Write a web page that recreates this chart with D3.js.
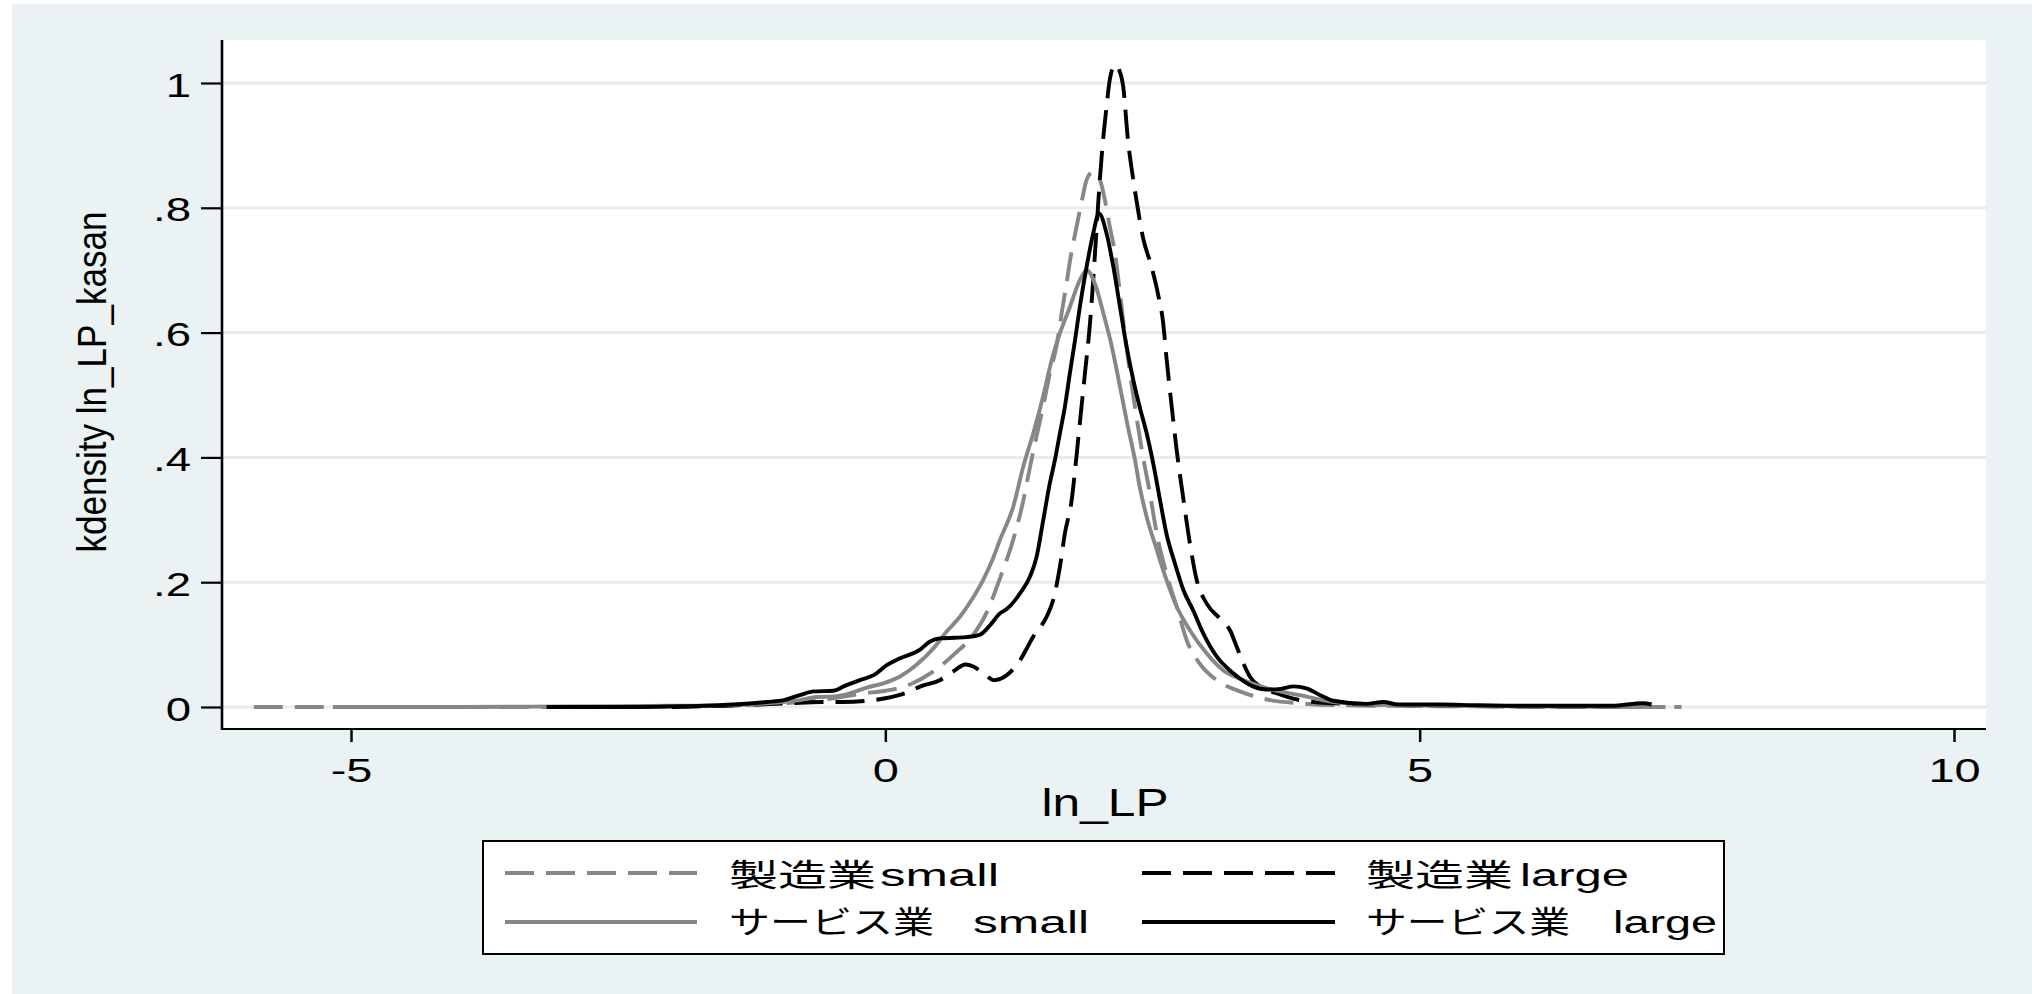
<!DOCTYPE html>
<html>
<head>
<meta charset="utf-8">
<script src="https://cdn.jsdelivr.net/npm/d3@7"></script>
<style>
  html, body { margin: 0; padding: 0; background: #fff; }
  svg { display: block; }
</style>
</head>
<body>
<script>
// ticks and labels
var xTicks = [-5, 0, 5, 10];
var yTicks = [0, 0.2, 0.4, 0.6, 0.8, 1];
var yTickLabels = ["0", ".2", ".4", ".6", ".8", "1"];
var xTitle = "ln_LP";
var yTitle = "kdensity ln_LP_kasan";

// legend text, split into the kanji/kana part and the latin part
var legendKana = ["製造業", "製造業", "サービス業", "サービス業"];
var legendLatin = ["small", "large", "small", "large"];

// kernel density estimates: [ln_LP, density]
var mfgSmall = [
  [-5.91, 0.000], [-4.0, 0.000], [-3.0, 0.000], [-2.0, 0.001], [-1.5, 0.002],
  [-1.2, 0.004], [-0.95, 0.006], [-0.7, 0.010], [-0.49, 0.014], [-0.2, 0.022],
  [0.0, 0.026], [0.23, 0.036], [0.45, 0.057], [0.64, 0.084], [0.82, 0.115],
  [0.95, 0.152], [1.07, 0.205], [1.2, 0.27], [1.29, 0.33], [1.354, 0.385],
  [1.416, 0.435], [1.476, 0.481], [1.54, 0.535], [1.60, 0.577], [1.65, 0.631],
  [1.70, 0.684], [1.74, 0.727], [1.79, 0.77], [1.84, 0.812], [1.884, 0.845],
  [1.945, 0.858], [2.008, 0.845], [2.055, 0.812], [2.10, 0.77], [2.149, 0.727],
  [2.196, 0.663], [2.24, 0.599], [2.29, 0.535], [2.336, 0.481], [2.40, 0.412],
  [2.476, 0.342], [2.54, 0.278], [2.63, 0.214], [2.726, 0.161], [2.82, 0.107],
  [2.94, 0.07], [3.1, 0.043], [3.318, 0.025], [3.57, 0.012], [3.88, 0.006],
  [4.19, 0.003], [4.6, 0.002], [5.5, 0.001], [6.5, 0.000], [7.45, 0.000]
];
var mfgLarge = [
  [-2.0, 0.000], [-1.5, 0.002], [-1.2, 0.004], [-0.9, 0.006], [-0.6, 0.008],
  [-0.4, 0.008], [-0.17, 0.010], [0.0, 0.014], [0.2, 0.023], [0.33, 0.033],
  [0.51, 0.043], [0.636, 0.057], [0.75, 0.068], [0.823, 0.065], [0.917, 0.054],
  [1.02, 0.043], [1.136, 0.051], [1.26, 0.075], [1.385, 0.113], [1.51, 0.145],
  [1.57, 0.171], [1.634, 0.225], [1.68, 0.278], [1.744, 0.332], [1.79, 0.404],
  [1.82, 0.455], [1.868, 0.535], [1.915, 0.615], [1.96, 0.722], [1.99, 0.802],
  [2.024, 0.882], [2.07, 0.962], [2.10, 1.005], [2.149, 1.029], [2.19, 1.02],
  [2.226, 0.994], [2.27, 0.909], [2.32, 0.845], [2.37, 0.791], [2.41, 0.753],
  [2.49, 0.706], [2.55, 0.663], [2.60, 0.615], [2.63, 0.561], [2.68, 0.481],
  [2.726, 0.412], [2.79, 0.332], [2.85, 0.262], [2.913, 0.204], [3.006, 0.166],
  [3.13, 0.142], [3.225, 0.123], [3.287, 0.097], [3.35, 0.07], [3.41, 0.049],
  [3.505, 0.033], [3.66, 0.022], [3.88, 0.011], [4.19, 0.006], [4.6, 0.004],
  [5.2, 0.002], [6.0, 0.001], [7.0, 0.000]
];
var svcSmall = [
  [-5.17, 0.000], [-4.0, 0.000], [-3.0, 0.001], [-2.0, 0.002], [-1.5, 0.003],
  [-1.1, 0.006], [-0.8, 0.011], [-0.64, 0.016], [-0.486, 0.017], [-0.33, 0.022],
  [-0.174, 0.031], [-0.02, 0.038], [0.138, 0.049], [0.294, 0.068], [0.45, 0.094],
  [0.574, 0.121], [0.70, 0.145], [0.82, 0.175], [0.917, 0.204], [1.0, 0.235],
  [1.073, 0.268], [1.197, 0.321], [1.29, 0.385], [1.385, 0.439], [1.48, 0.50],
  [1.557, 0.556], [1.634, 0.599], [1.727, 0.641], [1.82, 0.684], [1.884, 0.70],
  [1.96, 0.679], [2.04, 0.631], [2.12, 0.577], [2.196, 0.513], [2.27, 0.449],
  [2.336, 0.396], [2.38, 0.353], [2.445, 0.305], [2.54, 0.252], [2.63, 0.204],
  [2.726, 0.161], [2.85, 0.123], [3.006, 0.086], [3.16, 0.059], [3.35, 0.043],
  [3.57, 0.030], [3.88, 0.019], [4.19, 0.008], [4.6, 0.004], [5.2, 0.002],
  [6.0, 0.001], [7.0, 0.000], [7.3, 0.000]
];
var svcLarge = [
  [-3.17, 0.000], [-2.5, 0.000], [-2.0, 0.001], [-1.7, 0.002], [-1.42, 0.004],
  [-1.11, 0.008], [-0.95, 0.011], [-0.80, 0.019], [-0.67, 0.025], [-0.486, 0.026],
  [-0.39, 0.033], [-0.237, 0.043], [-0.11, 0.051], [0.013, 0.067], [0.138, 0.078],
  [0.325, 0.092], [0.418, 0.105], [0.51, 0.11], [0.65, 0.111], [0.76, 0.112],
  [0.886, 0.116], [0.98, 0.131], [1.073, 0.15], [1.136, 0.157], [1.26, 0.182],
  [1.354, 0.209], [1.416, 0.241], [1.478, 0.30], [1.54, 0.359], [1.587, 0.396],
  [1.634, 0.439], [1.68, 0.481], [1.727, 0.535], [1.775, 0.588], [1.82, 0.641],
  [1.884, 0.706], [1.945, 0.759], [2.0, 0.791], [2.07, 0.759], [2.133, 0.706],
  [2.196, 0.641], [2.258, 0.577], [2.32, 0.524], [2.38, 0.481], [2.445, 0.439],
  [2.507, 0.39], [2.57, 0.332], [2.63, 0.278], [2.71, 0.23], [2.79, 0.187],
  [2.88, 0.155], [2.975, 0.118], [3.10, 0.081], [3.256, 0.054], [3.44, 0.033],
  [3.57, 0.028], [3.7, 0.029], [3.82, 0.033], [3.94, 0.030], [4.07, 0.019],
  [4.19, 0.010], [4.5, 0.005], [4.66, 0.008], [4.8, 0.004], [5.2, 0.004],
  [5.5, 0.003], [6.0, 0.002], [6.8, 0.002], [7.09, 0.006], [7.17, 0.004]
];

var series = [mfgSmall, mfgLarge, svcSmall, svcLarge];

// styles per series, same order as legend
var gray = "#878787";
var lineColors = [gray, "#000", gray, "#000"];
var lineDash = ["29,12", "29,12", null, null];

// layout
var W = 2032, H = 994;
var plotL = 222, plotR = 1986, plotT = 40, plotB = 729;
var bg = "#eaf2f3";
var latinFont = "'Liberation Sans', Arial, sans-serif";
var cjkFont = "'Noto Sans CJK JP', sans-serif";

var svg = d3.select("body").append("svg")
  .attr("width", W)
  .attr("height", H);

svg.append("rect")
  .attr("x", 12).attr("y", 4)
  .attr("width", W - 12).attr("height", H - 4)
  .attr("fill", bg);

var x = d3.scaleLinear().domain([-5, 10]).range([351, 1954]);
var y = d3.scaleLinear().domain([0, 1]).range([707, 83]);

svg.append("rect")
  .attr("x", plotL).attr("y", plotT)
  .attr("width", plotR - plotL).attr("height", plotB - plotT)
  .attr("fill", "#fff");

// grid
svg.append("g")
  .selectAll("line")
  .data(yTicks)
  .enter()
  .append("line")
  .attr("x1", plotL).attr("x2", plotR)
  .attr("y1", d => y(d)).attr("y2", d => y(d))
  .attr("stroke", "#e4eef0")
  .attr("stroke-width", 3);

// density curves
var line = d3.line()
  .x(d => x(d[0]))
  .y(d => y(d[1]))
  .curve(d3.curveMonotoneX);

svg.append("g")
  .selectAll("path")
  .data(series)
  .enter()
  .append("path")
  .attr("d", line)
  .attr("fill", "none")
  .attr("stroke", (d, i) => lineColors[i])
  .attr("stroke-dasharray", (d, i) => lineDash[i])
  .attr("stroke-width", 3.9)
  .attr("stroke-linejoin", "round");

// y axis
var yAxis = d3.axisLeft(y)
  .tickValues(yTicks)
  .tickSize(21)
  .tickFormat((d, i) => yTickLabels[i]);

var gy = svg.append("g")
  .attr("transform", "translate(" + plotL + ",0)")
  .call(yAxis);
gy.select(".domain").remove();
gy.selectAll(".tick line").attr("stroke", "#000").attr("stroke-width", 2.2);
gy.selectAll(".tick text")
  .attr("x", null).attr("dy", null)
  .attr("transform", "translate(-31,13) scale(1.38,1)")
  .attr("text-anchor", "end")
  .attr("fill", "#000")
  .style("font-family", latinFont)
  .style("font-size", "33px");

// x axis
var xAxis = d3.axisBottom(x)
  .tickValues(xTicks)
  .tickSize(13)
  .tickFormat(d => d3.format("d")(d).replace("−", "-"));

var gx = svg.append("g")
  .attr("transform", "translate(0," + plotB + ")")
  .call(xAxis);
gx.select(".domain").remove();
gx.selectAll(".tick line").attr("stroke", "#000").attr("stroke-width", 2.5);
gx.selectAll(".tick text")
  .attr("y", null).attr("dy", null)
  .attr("transform", "translate(0,53) scale(1.38,1)")
  .attr("fill", "#000")
  .style("font-family", latinFont)
  .style("font-size", "34px");

// axis lines
svg.append("line")
  .attr("x1", plotL).attr("x2", plotL)
  .attr("y1", plotT).attr("y2", plotB + 1)
  .attr("stroke", "#000").attr("stroke-width", 2.6);
svg.append("line")
  .attr("x1", plotL - 1).attr("x2", plotR)
  .attr("y1", plotB).attr("y2", plotB)
  .attr("stroke", "#000").attr("stroke-width", 2.2);

// titles
svg.append("text")
  .attr("transform", "translate(106,382) rotate(-90)")
  .attr("text-anchor", "middle")
  .attr("textLength", 341)
  .attr("lengthAdjust", "spacingAndGlyphs")
  .style("font-family", latinFont)
  .style("font-size", "41px")
  .text(yTitle);

svg.append("text")
  .attr("x", 1105).attr("y", 816)
  .attr("text-anchor", "middle")
  .attr("textLength", 127)
  .attr("lengthAdjust", "spacingAndGlyphs")
  .style("font-family", latinFont)
  .style("font-size", "39px")
  .text(xTitle);

// legend
svg.append("rect")
  .attr("x", 483).attr("y", 841)
  .attr("width", 1241).attr("height", 113)
  .attr("fill", "#fff")
  .attr("stroke", "#000")
  .attr("stroke-width", 2);

var legRowY = [873, 922];
var legLineX = [[505, 697], [1142, 1335]];
var legBase = [886, 933];
// ink extents of each label part: [kanaStart, kanaEnd, latinStart, latinEnd]
var legTextX = [
  [729, 876, 880, 999],
  [1366, 1513, 1520, 1629],
  [729, 934, 973, 1089],
  [1366, 1570, 1613, 1717]
];

var leg = svg.append("g")
  .selectAll("g")
  .data(legendKana)
  .enter()
  .append("g");

leg.append("line")
  .attr("x1", (d, i) => legLineX[i % 2][0])
  .attr("x2", (d, i) => legLineX[i % 2][1])
  .attr("y1", (d, i) => legRowY[Math.floor(i / 2)])
  .attr("y2", (d, i) => legRowY[Math.floor(i / 2)])
  .attr("stroke", (d, i) => lineColors[i])
  .attr("stroke-dasharray", (d, i) => lineDash[i])
  .attr("stroke-width", 3.8);

leg.append("text")
  .attr("x", (d, i) => legTextX[i][0])
  .attr("y", (d, i) => legBase[Math.floor(i / 2)])
  .attr("textLength", (d, i) => legTextX[i][1] - legTextX[i][0])
  .attr("lengthAdjust", "spacingAndGlyphs")
  .style("font-family", cjkFont)
  .style("font-size", "31px")
  .text(d => d);

leg.append("text")
  .attr("x", (d, i) => legTextX[i][2])
  .attr("y", (d, i) => legBase[Math.floor(i / 2)])
  .attr("textLength", (d, i) => legTextX[i][3] - legTextX[i][2])
  .attr("lengthAdjust", "spacingAndGlyphs")
  .style("font-family", latinFont)
  .style("font-size", "31px")
  .text((d, i) => legendLatin[i]);
</script>
</body>
</html>
